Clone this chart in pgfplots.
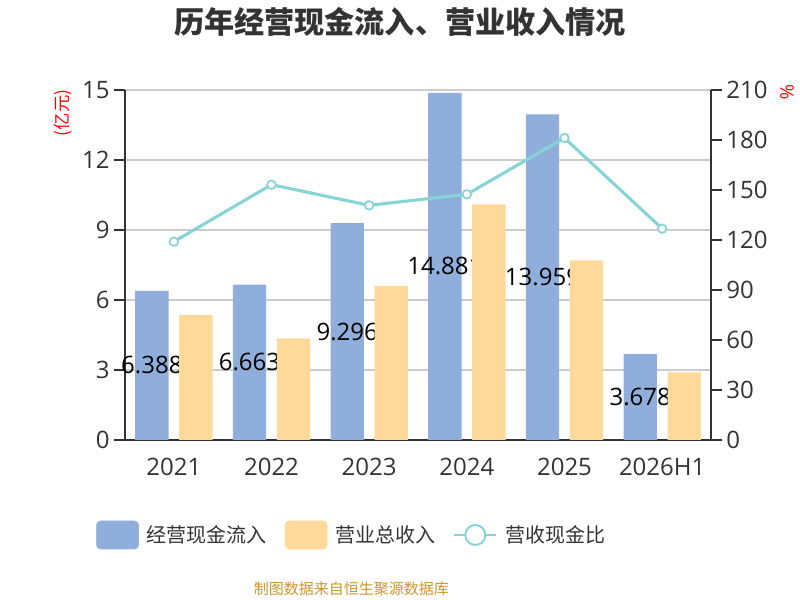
\documentclass[border=0pt]{standalone}
\usepackage{fontspec}
\setmainfont{Open Sans}
\newfontfamily\cjk{Noto Sans CJK SC}
\usepackage{pgfplots}
\pgfplotsset{compat=1.18}
\usepackage{pgfplotstable}

\definecolor{cblue}{HTML}{8FAEDB}
\definecolor{corange}{HTML}{FFD99A}
\definecolor{cline}{HTML}{86D4D6}
\definecolor{ctext}{HTML}{333333}
\definecolor{cgrid}{HTML}{CCCCCC}
\definecolor{cfoot}{HTML}{C9962C}

\pgfplotstableread{
x cash rev ratio lab
0 6.388 5.36 119.0 6.388
1 6.663 4.36 153.2 6.663
2 9.296 6.61 140.8 9.296
3 14.881 10.10 147.4 14.881
4 13.959 7.70 181.2 13.959
5 3.678 2.90 126.8 3.678
}\data

\pgfplotsset{common/.style={
  at={(93.75pt,120pt)}, anchor=south west,
  scale only axis, width=439.5pt, height=262.5pt,
  xmin=-0.5, xmax=5.5, clip=false,
  tick label style={font=\fontsize{18}{20}\selectfont, text=ctext},
  /pgf/number format/assume math mode=true,
}}

\begin{document}
\begin{tikzpicture}
\path[use as bounding box] (0pt,0pt) rectangle (600pt,450pt);

\begin{axis}[
  common,
  ymin=0, ymax=15,
  ytick={0,3,6,9,12,15},
  xtick={0,...,5},
  xticklabels={2021,2022,2023,2024,2025,2026H1},
  extra x ticks={-0.5,0.5,1.5,2.5,3.5,4.5,5.5},
  extra x tick labels={},
  extra x tick style={major tick length=8pt, tick style={ctext, line width=1.5pt}, grid=none},
  xtick style={draw=none},
  axis x line*=bottom, axis y line*=left,
  axis line style={ctext, line width=1.5pt},
  tick align=outside,
  ytick style={ctext, line width=1.5pt},
  major tick length=8pt,
  ymajorgrids, grid style={cgrid, line width=1.1pt},
  xticklabel style={yshift=-2pt},
  legend columns=3,
  legend style={at={(-0.0563,-0.2714)}, anchor=west, draw=none, fill=none,
    font=\cjk\fontsize{15}{18}\selectfont, text=ctext,
    nodes={inner sep=0pt},
    /tikz/every odd column/.append style={column sep=6pt},
    /tikz/every even column/.append style={column sep=13.5pt}},
]
\addlegendimage{legend image code/.code={\fill[cblue, rounded corners=3pt] (0pt,-10.5pt) rectangle (31.5pt,10.5pt);}}
\addlegendentry{经营现金流入}
\addlegendimage{legend image code/.code={\fill[corange, rounded corners=3pt] (0pt,-10.5pt) rectangle (31.5pt,10.5pt);}}
\addlegendentry{营业总收入}
\addlegendimage{legend image code/.code={\draw[cline, line width=1.5pt] (0pt,0pt) -- (31.5pt,0pt); \draw[cline, line width=1.5pt, fill=white] (15.75pt,0pt) circle (7.5pt);}}
\addlegendentry{营收现金比}

\addplot[ybar, bar width=25pt, bar shift=-16.5pt, fill=cblue, draw=none, forget plot]
  table[x=x, y=cash]{\data};
\addplot[only marks, mark=*, mark size=0pt, mark options={draw=none, fill=none}, forget plot,
  nodes near coords, point meta=explicit symbolic,
  nodes near coords style={anchor=center, font=\fontsize{18}{20}\selectfont, text=black, inner sep=0pt}]
  table[x expr=\thisrow{x}-0.2253, y expr=\thisrow{cash}/2, meta=lab]{\data};
\end{axis}

\begin{axis}[
  common,
  ymin=0, ymax=15,
  hide axis,
]
\addplot[ybar, bar width=25pt, bar shift=16.5pt, fill=corange, draw=none, forget plot]
  table[x=x, y=rev]{\data};
\end{axis}

\begin{axis}[
  common,
  ymin=0, ymax=210,
  ytick={0,30,...,210},
  axis x line=none, axis y line*=right,
  axis line style={ctext, line width=1.5pt},
  tick align=outside,
  ytick style={ctext, line width=1.5pt},
  major tick length=8pt,
]
\addplot[cline, line width=2.3pt, mark=*, mark size=3.2pt,
  mark options={draw=cline, fill=white, line width=1.3pt}]
  table[x=x, y=ratio]{\data};
\end{axis}

\node[font=\cjk\bfseries\fontsize{22.6}{26}\selectfont, text=ctext] at (300pt,433.5pt) {历年经营现金流入、营业收入情况};
\node[font=\cjk\fontsize{13}{15}\selectfont, text=red, rotate=90] at (47.25pt,365.25pt) {(亿元)};
\node[font=\fontsize{14}{16}\selectfont, text=red, rotate=-90] at (590.25pt,381pt) {\%};
\node[font=\cjk\fontsize{11.25}{13}\selectfont, text=cfoot] at (263.6pt,8.25pt) {制图数据来自恒生聚源数据库};
\end{tikzpicture}
\end{document}
